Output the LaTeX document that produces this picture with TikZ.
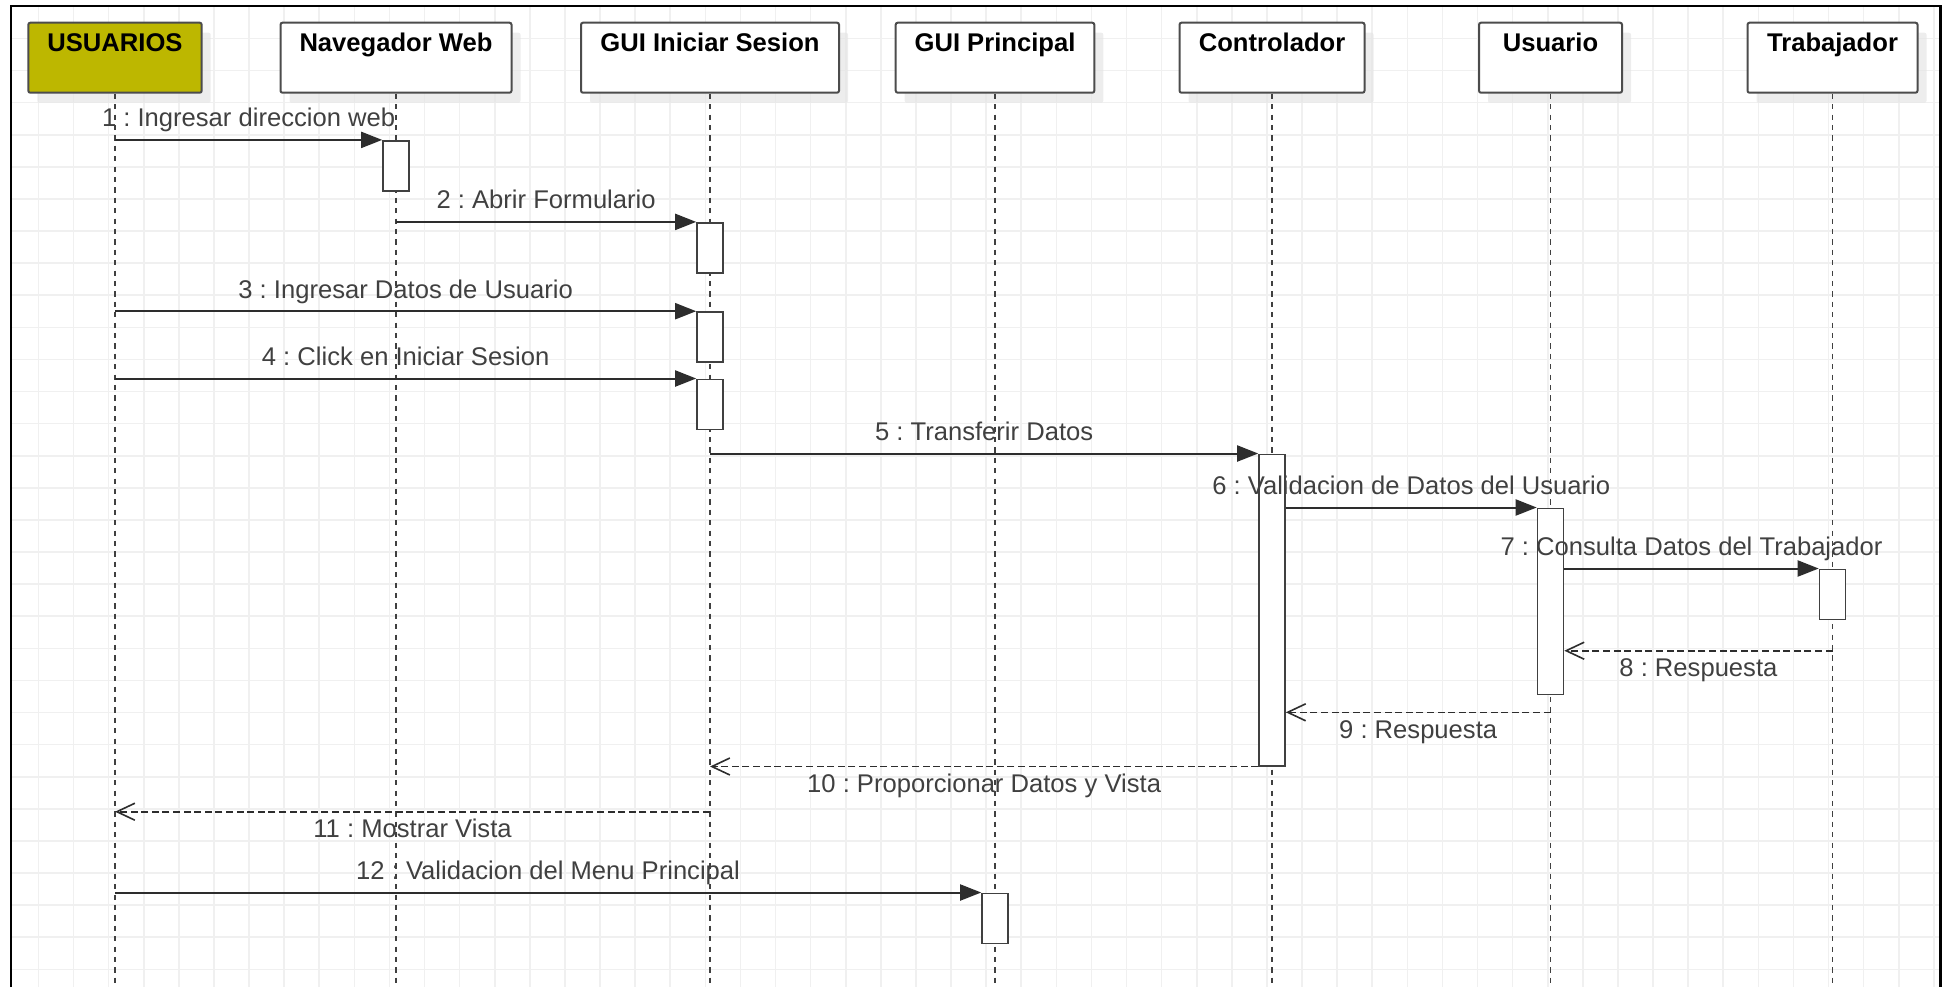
\documentclass[tikz,border=0pt]{standalone}
\usepackage{fontspec}
\setmainfont{Liberation Sans}
\usetikzlibrary{arrows.meta,shadows}
\definecolor{olivo}{RGB}{189,183,0}
\definecolor{linea}{RGB}{45,45,45}
\definecolor{rejilla}{RGB}{240,240,240}
\frenchspacing

\begin{document}
\begin{tikzpicture}[x=0.5pt, y=-0.5pt,
    head/.style={draw=black!70, line width=1pt, fill=white, rounded corners=1pt,
        font=\fontsize{12.8}{15}\selectfont\bfseries, inner xsep=0pt, inner ysep=0pt,
        text height=14.6pt, text depth=20.4pt,
        drop shadow={shadow xshift=4.5pt, shadow yshift=-5pt, fill=black!10, opacity=.7}},
    act/.style={draw=black!75, line width=.8pt, fill=white, minimum width=13pt, inner sep=0pt},
    lifeline/.style={draw=black!75, line width=.9pt, dash pattern=on 2.6pt off 2.6pt},
    call/.style={draw=linea, line width=1pt, -{Triangle[length=10.5pt,width=8pt]}},
    reply/.style={draw=linea, line width=.8pt, dash pattern=on 3.5pt off 1.8pt,
        -{Straight Barb[length=9pt,width=8.5pt]}},
    msg/.style={font=\fontsize{12.8}{15}\selectfont, text=black!75, text height=9.3pt, text depth=2.7pt},
    gridline/.style={draw=rejilla, line width=.8pt}]
    \useasboundingbox (0,0) rectangle (1943,987);

    \begin{scope}
        \clip (11,6) rectangle (1940.5,987);
        \foreach \i in {1,...,55}
            \draw[gridline] ({3.3+35.1*\i},6) -- ({3.3+35.1*\i},987);
        \foreach \j in {1,...,30}
            \draw[gridline] (11,{6.3+32.1*\j}) -- (1940.5,{6.3+32.1*\j});
    \end{scope}
    \draw[line width=1.3pt] (11,987) -- (11,6) -- (1940.5,6) -- (1940.5,987);

    \node[head, fill=olivo, minimum width=86.7pt] (usr) at (115,57.7) {USUARIOS};
    \node[head, minimum width=115.5pt] (nav) at (396,57.7) {Navegador Web};
    \node[head, minimum width=129pt] (gis) at (710,57.7) {GUI Iniciar Sesion};
    \node[head, minimum width=99.3pt] (gpr) at (995,57.7) {GUI Principal};
    \node[head, minimum width=92.5pt] (ctl) at (1272,57.7) {Controlador};
    \node[head, minimum width=71.5pt] (usu) at (1550.5,57.7) {Usuario};
    \node[head, minimum width=85pt] (tra) at (1832.5,57.7) {Trabajador};

    \coordinate (fondo) at (0,987);
    \foreach \n in {usr,nav,gis,gpr,ctl,usu,tra}
        \draw[lifeline] (\n.south) -- (\n.south |- fondo);

    \node[act, minimum height=25pt] (aNav) at (396,165.7) {};
    \node[act, minimum height=25pt] (aGis1) at (710,247.7) {};
    \node[act, minimum height=25pt] (aGis2) at (710,337) {};
    \node[act, minimum height=25pt] (aGis3) at (710,404.3) {};
    \node[act, minimum height=155.7pt] (aCtl) at (1272,610) {};
    \node[act, minimum height=93pt] (aUsu) at (1550.5,601.3) {};
    \node[act, minimum height=25pt] (aTra) at (1832.5,594.3) {};
    \node[act, minimum height=25pt] (aGpr) at (995,918.3) {};

    \draw[call] (usr |- aNav.north west) -- (aNav.north west)
        node[msg, midway, above] (m1) {1 : Ingresar direccion web};
    \draw[call] (nav |- aGis1.north west) -- (aGis1.north west)
        node[msg, midway, above] (m2) {2 : Abrir Formulario};
    \draw[call] (usr |- aGis2.north west) -- (aGis2.north west)
        node[msg, midway, above] (m3) {3 : Ingresar Datos de Usuario};
    \draw[call] (usr |- aGis3.north west) -- (aGis3.north west)
        node[msg, midway, above] (m4) {4 : Click en Iniciar Sesion};
    \draw[call] (gis |- aCtl.north west) -- (aCtl.north west)
        node[msg, midway, above] (m5) {5 : Transferir Datos};
    \draw[call] (aCtl.east |- aUsu.north west) -- (aUsu.north west)
        node[msg, midway, above] (m6) {6 : Validacion de Datos del Usuario};
    \draw[call] (aUsu.east |- aTra.north west) -- (aTra.north west)
        node[msg, midway, above] (m7) {7 : Consulta Datos del Trabajador};

    \coordinate (r8) at (1832.5,650.7);
    \draw[reply] (r8) -- (aUsu.east |- r8)
        node[msg, midway, below] (m8) {8 : Respuesta};
    \coordinate (r9) at (1550.5,712.3);
    \draw[reply] (r9) -- (aCtl.east |- r9)
        node[msg, midway, below] (m9) {9 : Respuesta};
    \draw[reply] (aCtl.south west) -- (gis |- aCtl.south west)
        node[msg, midway, below] (m10) {10 : Proporcionar Datos y Vista};
    \coordinate (r11) at (710,811.7);
    \draw[reply] (r11) -- (usr |- r11)
        node[msg, midway, below] (m11) {11 : Mostrar Vista};

    \draw[call] (usr |- aGpr.north west) -- (aGpr.north west)
        node[msg, midway, above] (m12) {12 : Validacion del Menu Principal};
\end{tikzpicture}
\end{document}
